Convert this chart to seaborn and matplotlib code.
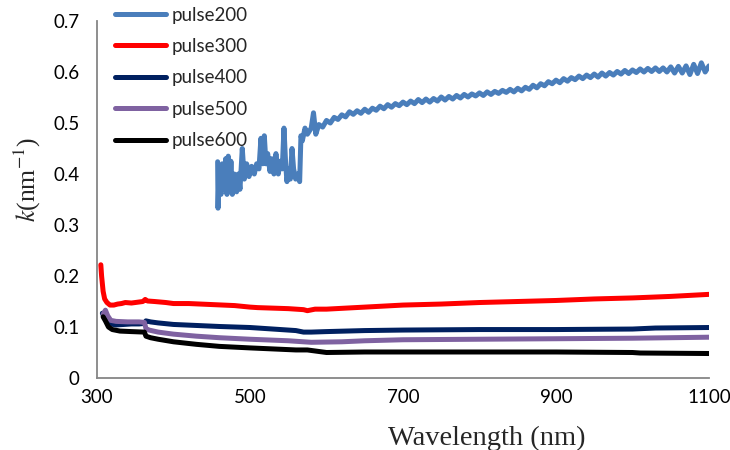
import numpy as np
import pandas as pd
import matplotlib
matplotlib.use("Agg")
import matplotlib.pyplot as plt
import seaborn as sns

# ---------------- data ----------------
series_names = ["pulse200", "pulse300", "pulse400", "pulse500", "pulse600"]
series_colors = ["#4A7EBB", "#FF0000", "#002060", "#7F62A1", "#000000"]

p200_x = [457.7, 458.2, 459.4, 462.1, 463.8, 466.4, 468.2, 469.9, 471.6, 473.4,
          475.1, 476.9, 479.5, 482.5, 484.7, 486.9, 489.9, 492.6, 495.6, 498.7,
          502.1, 505.6, 508.7, 511.7, 514.3, 516.5, 518.7, 520.9, 523.1, 526.1,
          528.3, 531.3, 533.9, 537.0, 539.2, 542.2, 544.4, 546.6, 548.3, 550.1,
          552.7, 554.9, 557.0, 559.7, 562.3, 564.9, 566.6, 568.4, 571.9,
          575, 580, 583, 586, 590, 595, 600, 605, 610, 615, 620, 625, 630, 635,
          640, 645, 650, 655, 660, 665, 670, 675, 680, 685, 690, 695, 700, 705,
          710, 715, 720, 725, 730, 735, 740, 745, 750, 755, 760, 765, 770, 775,
          780, 785, 790, 795, 800, 805, 810, 815, 820, 825, 830, 835, 840, 845,
          850, 855, 860, 865, 870, 875, 880, 885, 890, 895, 900, 905, 910, 915,
          920, 925, 930, 935, 940, 945, 950, 955, 960, 965, 970, 975, 980, 985,
          990, 995, 1000, 1005, 1010, 1015, 1020, 1025, 1030, 1035, 1040, 1045,
          1050, 1055, 1060, 1065, 1070, 1075, 1080, 1085, 1090, 1095, 1100]
p200_y = [0.424, 0.333, 0.400, 0.360, 0.420, 0.370, 0.430, 0.360, 0.435, 0.370,
          0.425, 0.360, 0.400, 0.365, 0.400, 0.370, 0.450, 0.390, 0.420, 0.395,
          0.415, 0.400, 0.420, 0.410, 0.470, 0.420, 0.475, 0.420, 0.440, 0.405,
          0.430, 0.400, 0.440, 0.400, 0.425, 0.410, 0.490, 0.420, 0.385, 0.410,
          0.390, 0.450, 0.410, 0.390, 0.400, 0.385, 0.475, 0.465, 0.490,
          0.478, 0.490, 0.520, 0.478, 0.497, 0.492, 0.505, 0.500, 0.511, 0.507,
          0.516, 0.512, 0.522, 0.517, 0.524, 0.519, 0.527, 0.521, 0.529, 0.525,
          0.533, 0.528, 0.536, 0.531, 0.538, 0.534, 0.541, 0.536, 0.543, 0.538,
          0.546, 0.540, 0.547, 0.541, 0.548, 0.543, 0.551, 0.545, 0.552, 0.547,
          0.554, 0.549, 0.556, 0.551, 0.557, 0.553, 0.559, 0.554, 0.561, 0.556,
          0.562, 0.558, 0.564, 0.560, 0.566, 0.561, 0.568, 0.563, 0.570, 0.566,
          0.574, 0.569, 0.577, 0.573, 0.581, 0.577, 0.584, 0.579, 0.587, 0.582,
          0.589, 0.585, 0.592, 0.587, 0.594, 0.589, 0.596, 0.590, 0.598, 0.592,
          0.599, 0.594, 0.601, 0.596, 0.603, 0.597, 0.604, 0.599, 0.606, 0.600,
          0.607, 0.601, 0.608, 0.601, 0.608, 0.600, 0.610, 0.598, 0.611, 0.598,
          0.612, 0.595, 0.615, 0.597, 0.618, 0.600, 0.612]

p300_x = [305, 306, 308, 310, 313, 317, 322, 327, 332, 337, 345, 355, 360, 363,
          366, 375, 390, 400, 420, 450, 480, 500, 510, 530, 550, 570, 575, 585,
          600, 650, 700, 750, 800, 850, 900, 950, 1000, 1050, 1100]
p300_y = [0.222, 0.200, 0.170, 0.155, 0.148, 0.143, 0.143, 0.145, 0.146, 0.148,
          0.147, 0.149, 0.150, 0.154, 0.151, 0.150, 0.148, 0.146, 0.146, 0.144,
          0.142, 0.139, 0.138, 0.137, 0.136, 0.134, 0.132, 0.135, 0.135, 0.139,
          0.143, 0.145, 0.148, 0.150, 0.152, 0.155, 0.157, 0.160, 0.164]

p400_x = [307, 310, 313, 318, 325, 335, 345, 355, 362, 364, 370, 380, 400, 430,
          460, 500, 530, 560, 570, 580, 600, 650, 700, 800, 900, 1000, 1030, 1100]
p400_y = [0.127, 0.118, 0.110, 0.106, 0.104, 0.105, 0.106, 0.106, 0.107, 0.112,
          0.110, 0.108, 0.105, 0.103, 0.101, 0.099, 0.096, 0.093, 0.090, 0.090,
          0.091, 0.093, 0.094, 0.095, 0.095, 0.096, 0.098, 0.099]

p500_x = [308, 311, 314, 318, 325, 340, 355, 362, 364, 368, 380, 400, 430, 460,
          500, 550, 570, 580, 620, 650, 700, 800, 900, 1000, 1100]
p500_y = [0.125, 0.133, 0.122, 0.113, 0.111, 0.110, 0.110, 0.109, 0.097, 0.094,
          0.090, 0.086, 0.082, 0.079, 0.076, 0.073, 0.071, 0.070, 0.071, 0.073,
          0.075, 0.076, 0.077, 0.078, 0.080]

p600_x = [308, 311, 315, 320, 330, 345, 362, 364, 370, 380, 400, 430, 460, 500,
          530, 560, 575, 590, 600, 650, 700, 800, 900, 1000, 1010, 1100]
p600_y = [0.120, 0.112, 0.100, 0.095, 0.092, 0.091, 0.090, 0.082, 0.079, 0.076,
          0.071, 0.066, 0.062, 0.059, 0.057, 0.055, 0.055, 0.052, 0.050, 0.051,
          0.051, 0.051, 0.051, 0.050, 0.049, 0.048]

x_ticks = [300, 500, 700, 900, 1100]
y_ticks = [0, 0.1, 0.2, 0.3, 0.4, 0.5, 0.6, 0.7]
x_tick_labels = ["300", "500", "700", "900", "1100"]
y_tick_labels = ["0", "0.1", "0.2", "0.3", "0.4", "0.5", "0.6", "0.7"]
x_label = "Wavelength (nm)"
y_label = r"$k$(nm$^{-1}$)"

# ---------------- build long table ----------------
xs = [p200_x, p300_x, p400_x, p500_x, p600_x]
ys = [p200_y, p300_y, p400_y, p500_y, p600_y]
frames = []
for name, x, y in zip(series_names, xs, ys):
    frames.append(pd.DataFrame({"wl": x, "k": y, "series": name}))
df = pd.concat(frames, ignore_index=True)

# ---------------- style ----------------
sns.set_style("white")
plt.rcParams["font.family"] = ["Lato", "DejaVu Sans"]
plt.rcParams["mathtext.fontset"] = "stix"

GRAY = "#868686"
LW = 3.6
fig = plt.figure(figsize=(7.3, 4.5), dpi=100)
ax = fig.add_axes([97 / 730, 1 - 378 / 450, (709 - 97) / 730, (378 - 21) / 450])

sns.lineplot(data=df, x="wl", y="k", hue="series", hue_order=series_names,
             palette=dict(zip(series_names, series_colors)), sort=False,
             estimator=None, linewidth=LW, ax=ax, legend=True)
for ln in ax.get_lines():
    ln.set_solid_capstyle("round")
    ln.set_solid_joinstyle("round")

ax.set_xlim(300, 1100)
ax.set_ylim(0, 0.7)
ax.set_xticks(x_ticks)
ax.set_xticklabels(x_tick_labels)
ax.set_yticks(y_ticks)
ax.set_yticklabels(y_tick_labels)

for side in ["top", "right"]:
    ax.spines[side].set_visible(False)
for side in ["left", "bottom"]:
    ax.spines[side].set_color(GRAY)
    ax.spines[side].set_linewidth(1.3)
ax.tick_params(axis="both", direction="out", length=5, width=1.3, color=GRAY,
               labelsize=13.5, labelcolor="black")
ax.tick_params(axis="y", pad=7.5)
ax.tick_params(axis="x", pad=3)
ax.grid(False)

ax.set_xlabel(x_label, family=["Liberation Serif"], fontsize=20.5)
ax.xaxis.set_label_coords(0.637, -0.135)
ax.set_ylabel(y_label, family=["Liberation Serif"], fontsize=18.5)
ax.yaxis.set_label_coords(-0.088, 0.555)

handles, labels = ax.get_legend_handles_labels()
leg = ax.legend(handles, labels, loc="upper left",
                bbox_to_anchor=(115 / 730, 1 - 6.5 / 450),
                bbox_transform=fig.transFigure, frameon=False,
                fontsize=13.5, handlelength=2.7, handletextpad=0.3,
                labelspacing=0.77, borderpad=0, borderaxespad=0)
for ln in leg.get_lines():
    ln.set_linewidth(LW)
    ln.set_solid_capstyle("round")

fig.savefig("out.png", dpi=100)
